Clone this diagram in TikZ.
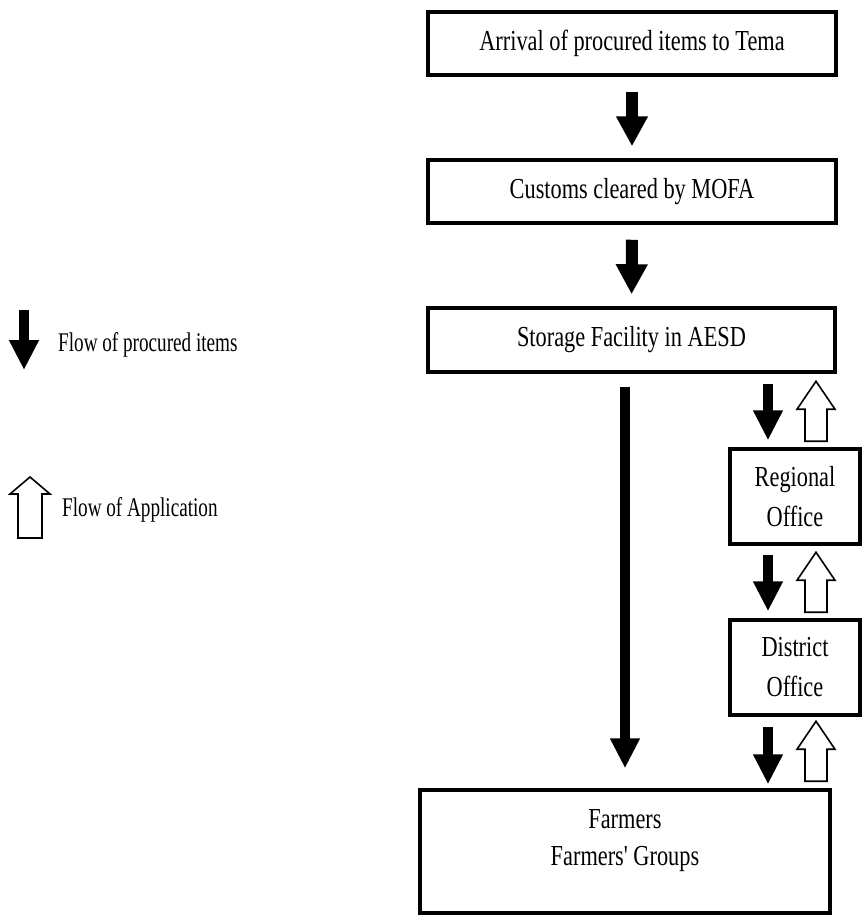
\documentclass[tikz,border=0pt]{standalone}
\usepackage{fontspec}
\setmainfont{Liberation Serif}
\newfontfamily\boxfont{Liberation Serif}[FakeStretch=0.77]
\newfontfamily\legfont{Liberation Serif}[FakeStretch=0.71]
\usetikzlibrary{arrows.meta}
\begin{document}
\begin{tikzpicture}[x=1pt,y=-1pt,
  box/.style={draw, line width=3.5pt, inner sep=0pt, align=center,
    font=\boxfont\fontsize{29}{40}\selectfont},
  boxtext/.style={inner sep=0pt, align=center, font=\boxfont\fontsize{29}{37}\selectfont},
  legtext/.style={inner sep=0pt, anchor=west, font=\legfont\fontsize{27}{32}\selectfont},
  blk/.style={line width=12pt, -{Triangle[width=30pt,length=30pt]}},
  blks/.style={line width=10pt, -{Triangle[width=28pt,length=30pt]}},
  uparr/.pic={\draw[line width=1.6pt, fill=white] (-11,0) -- (-11,-32) -- (-19,-32) -- (0,-60) -- (19,-32) -- (11,-32) -- (11,0) -- cycle;},
  legarr/.pic={\draw[line width=1.6pt, fill=white] (-12,0) -- (-12,-44) -- (-20,-44) -- (0,-61) -- (20,-44) -- (12,-44) -- (12,0) -- cycle;}
]
\useasboundingbox (0,0) rectangle (862,922);

% main boxes
\node[box, minimum width=408pt, minimum height=63pt] (b1) at (632,43.5) {Arrival of procured items to Tema};
\node[box, minimum width=408pt, minimum height=63pt] (b2) at (632,191.5) {Customs cleared by MOFA};
\node[box, minimum width=407pt, minimum height=64pt] (b3) at (631.5,340) {Storage Facility in AESD};
\node[box, minimum width=130pt, minimum height=95pt] (reg) at (795,496.5) {Regional\\Office};
\node[box, minimum width=130pt, minimum height=95pt] (dist) at (795,667.5) {District\\Office};
\node[box, minimum width=410pt, minimum height=123pt] (farm) at (625,851.5) {};
\node[boxtext] (farmtxt) at ([yshift=11pt]farm.center) {Farmers\\Farmers' Groups};

% flow of procured items
\draw[blk, shorten <=15pt, shorten >=12pt] (b1.south) -- (b2.north);
\draw[blk, shorten <=15pt, shorten >=12pt] (b2.south) -- (b3.north);
\draw[blks, shorten <=13pt, shorten >=20pt] (farm.north |- b3.south) -- (farm.north);
\draw[blks, shorten <=10pt, shorten >=7pt] ([xshift=-27pt]reg.north |- b3.south) -- ([xshift=-27pt]reg.north);
\draw[blks, shorten <=9pt, shorten >=7pt] ([xshift=-27pt]reg.south) -- ([xshift=-27pt]dist.north);
\draw[blks, shorten <=10pt, shorten >=4pt] ([xshift=-27pt]dist.south) -- ([xshift=-27pt]dist.south |- farm.north);

% flow of application
\pic at ([xshift=21pt,yshift=6pt]reg.north) {uparr};
\pic at ([xshift=21pt,yshift=6pt]dist.north) {uparr};
\pic at ([xshift=21pt,yshift=7pt]dist.south |- farm.north) {uparr};

% legend
\coordinate (l1s) at (24,310);
\coordinate (l1e) at (24,370);
\draw[blks] (l1s) -- (l1e);
\node[legtext] (leg1) at (58,345) {Flow of procured items};
\pic at (30,538) {legarr};
\node[legtext] (leg2) at (62,510) {Flow of Application};
\end{tikzpicture}
\end{document}
